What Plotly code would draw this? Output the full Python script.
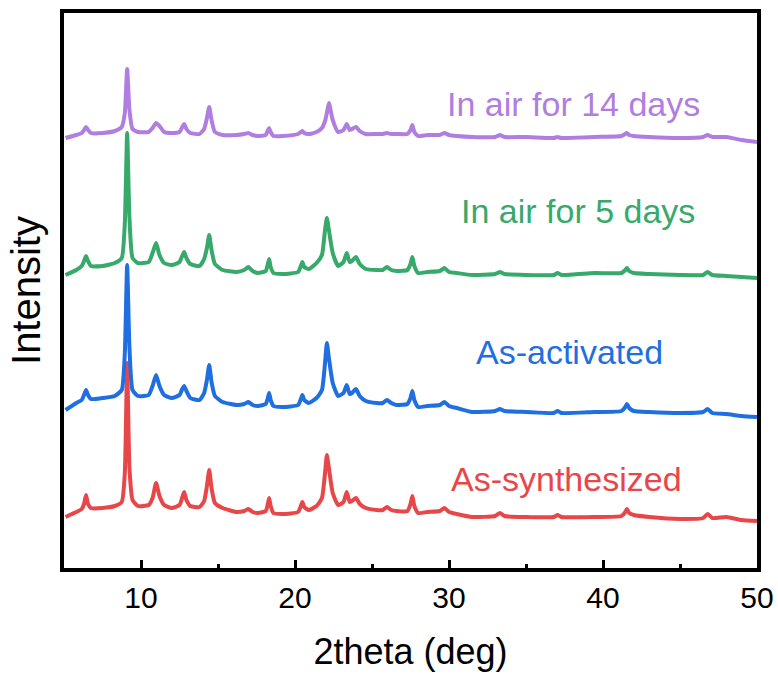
import plotly.graph_objects as go

# 2theta positions (deg)
two_theta = [5.1, 5.8, 6.15, 6.3, 6.43, 6.56, 6.75, 7.5, 8.3, 8.75,
             8.95, 9.1, 9.25, 9.45, 9.8, 10.5, 10.75, 10.98, 11.2, 11.5,
             12.0, 12.5, 12.65, 12.8, 12.95, 13.2, 13.8, 14.1, 14.28, 14.43,
             14.58, 14.8, 15.3, 16.2, 16.7, 16.97, 17.25, 17.6, 18.1, 18.22,
             18.32, 18.42, 18.6, 19.2, 20.2, 20.38, 20.48, 20.6, 20.9, 21.4,
             21.75, 21.95, 22.07, 22.2, 22.45, 22.8, 23.15, 23.36, 23.55, 23.7,
             23.96, 24.2, 24.6, 25.3, 25.7, 25.97, 26.25, 26.6, 27.3, 27.5,
             27.62, 27.75, 28.0, 28.6, 29.4, 29.7, 30.0, 30.5, 31.5, 33.0,
             33.3, 33.6, 35.0, 36.8, 37.05, 37.3, 39.45, 41.2, 41.45, 41.55,
             41.7, 42.0, 43.0, 45.0, 46.5, 46.79, 47.1, 48.0, 49.0, 50.0]

# stacked (offset) intensities, arbitrary units
as_synthesized = [51, 56, 59, 64, 73, 64, 60, 60, 62, 66,
                  95, 205, 100, 68, 62, 63, 70, 85, 72, 63,
                  60, 63, 69, 76, 68, 62, 61, 67, 82, 98,
                  80, 65, 60, 56, 57, 59, 56, 55, 57, 63,
                  70, 62, 55, 54, 56, 62, 66, 61, 58, 62,
                  70, 95, 113, 100, 75, 63, 66, 76, 66, 67,
                  70, 64, 60, 58, 58, 61, 58, 57, 57, 64,
                  72, 62, 55, 56, 57, 60, 56, 54, 51, 52,
                  55, 52, 51, 51, 53, 51, 51, 52, 56, 59,
                  55, 53, 51, 49, 50, 54, 50, 51, 48, 47]
as_activated = [158, 165, 168, 173, 178, 173, 169, 170, 172, 178,
                215, 303, 220, 178, 172, 173, 182, 193, 182, 173,
                170, 173, 178, 182, 177, 170, 168, 175, 188, 203,
                186, 172, 166, 163, 164, 166, 163, 162, 164, 169,
                175, 168, 162, 161, 163, 169, 173, 168, 165, 170,
                178, 205, 225, 210, 185, 172, 175, 183, 174, 175,
                179, 172, 167, 165, 165, 168, 165, 163, 164, 170,
                177, 168, 161, 162, 163, 166, 162, 160, 156, 157,
                159, 157, 156, 155, 157, 155, 156, 157, 161, 164,
                160, 157, 156, 155, 156, 159, 155, 154, 152, 151]
air_5_days = [293, 298, 302, 307, 312, 307, 302, 302, 305, 310,
              345, 435, 350, 310, 305, 306, 315, 325, 313, 305,
              303, 306, 311, 316, 310, 304, 302, 309, 320, 333,
              318, 304, 298, 296, 298, 301, 297, 295, 297, 303,
              309, 301, 295, 294, 296, 302, 306, 301, 299, 305,
              313, 338, 350, 338, 315, 302, 306, 315, 306, 307,
              311, 304, 299, 298, 298, 301, 298, 297, 298, 304,
              311, 302, 295, 296, 297, 300, 296, 295, 293, 294,
              296, 294, 293, 293, 295, 293, 295, 295, 298, 300,
              297, 295, 294, 293, 293, 296, 293, 292, 291, 290]
air_14_days = [430, 433, 435, 438, 441, 438, 435, 435, 437, 441,
               455, 499, 458, 439, 436, 436, 440, 445, 442, 436,
               435, 436, 440, 444, 439, 435, 434, 439, 450, 461,
               448, 436, 433, 433, 434, 435, 433, 432, 433, 437,
               440, 436, 432, 432, 434, 436, 437, 435, 434, 436,
               440, 447, 455, 465, 448, 436, 438, 444, 438, 439,
               441, 437, 434, 434, 434, 435, 434, 434, 434, 438,
               443, 436, 432, 433, 433, 435, 433, 432, 431, 431,
               433, 431, 431, 430, 431, 430, 431, 432, 434, 435,
               433, 432, 431, 430, 431, 433, 431, 431, 428, 426]

series_names = ["As-synthesized", "As-activated", "In air for 5 days", "In air for 14 days"]
series_data = [as_synthesized, as_activated, air_5_days, air_14_days]
colors = ["#E8474A", "#1F6FE0", "#37A96A", "#B07EE0"]
label_x = [37.6, 37.8, 38.4, 38.1]
label_y = [89, 216, 357, 464]

FONT = "Liberation Sans, Arial, sans-serif"

fig = go.Figure()
for name, ys, c in zip(series_names, series_data, colors):
    fig.add_trace(go.Scatter(x=two_theta, y=ys, mode="lines", name=name,
                             line=dict(color=c, width=4, shape="spline", smoothing=0.5),
                             showlegend=False))

for name, c, lx, ly in zip(series_names, colors, label_x, label_y):
    fig.add_annotation(x=lx, y=ly, xref="x", yref="y", text=name, showarrow=False,
                       font=dict(family=FONT, size=34, color=c))

fig.update_layout(
    width=778, height=674,
    margin=dict(l=64, r=21, t=13, b=106),
    paper_bgcolor="white", plot_bgcolor="white",
    font=dict(family=FONT, color="black"),
)
fig.update_xaxes(range=[5, 50], tickvals=[10, 20, 30, 40, 50], ticks="inside", ticklen=8,
                 tickwidth=3, tickcolor="black", showline=True, linewidth=3.5, linecolor="black",
                 mirror=True, showgrid=False, zeroline=False, automargin=False,
                 tickfont=dict(family=FONT, size=30, color="black"),
                 minor=dict(tickvals=[15, 25, 35, 45], ticks="inside", ticklen=4, tickwidth=3,
                            tickcolor="black"),
                 title=dict(text="2theta (deg)", font=dict(family=FONT, size=36, color="black"),
                            standoff=27))
fig.update_yaxes(range=[0, 555], showticklabels=False, ticks="", showline=True, linewidth=3.5,
                 linecolor="black", mirror=True, showgrid=False, zeroline=False, automargin=False,
                 title=dict(text="Intensity", font=dict(family=FONT, size=40, color="black"),
                            standoff=8))

fig.write_html("out.html")
